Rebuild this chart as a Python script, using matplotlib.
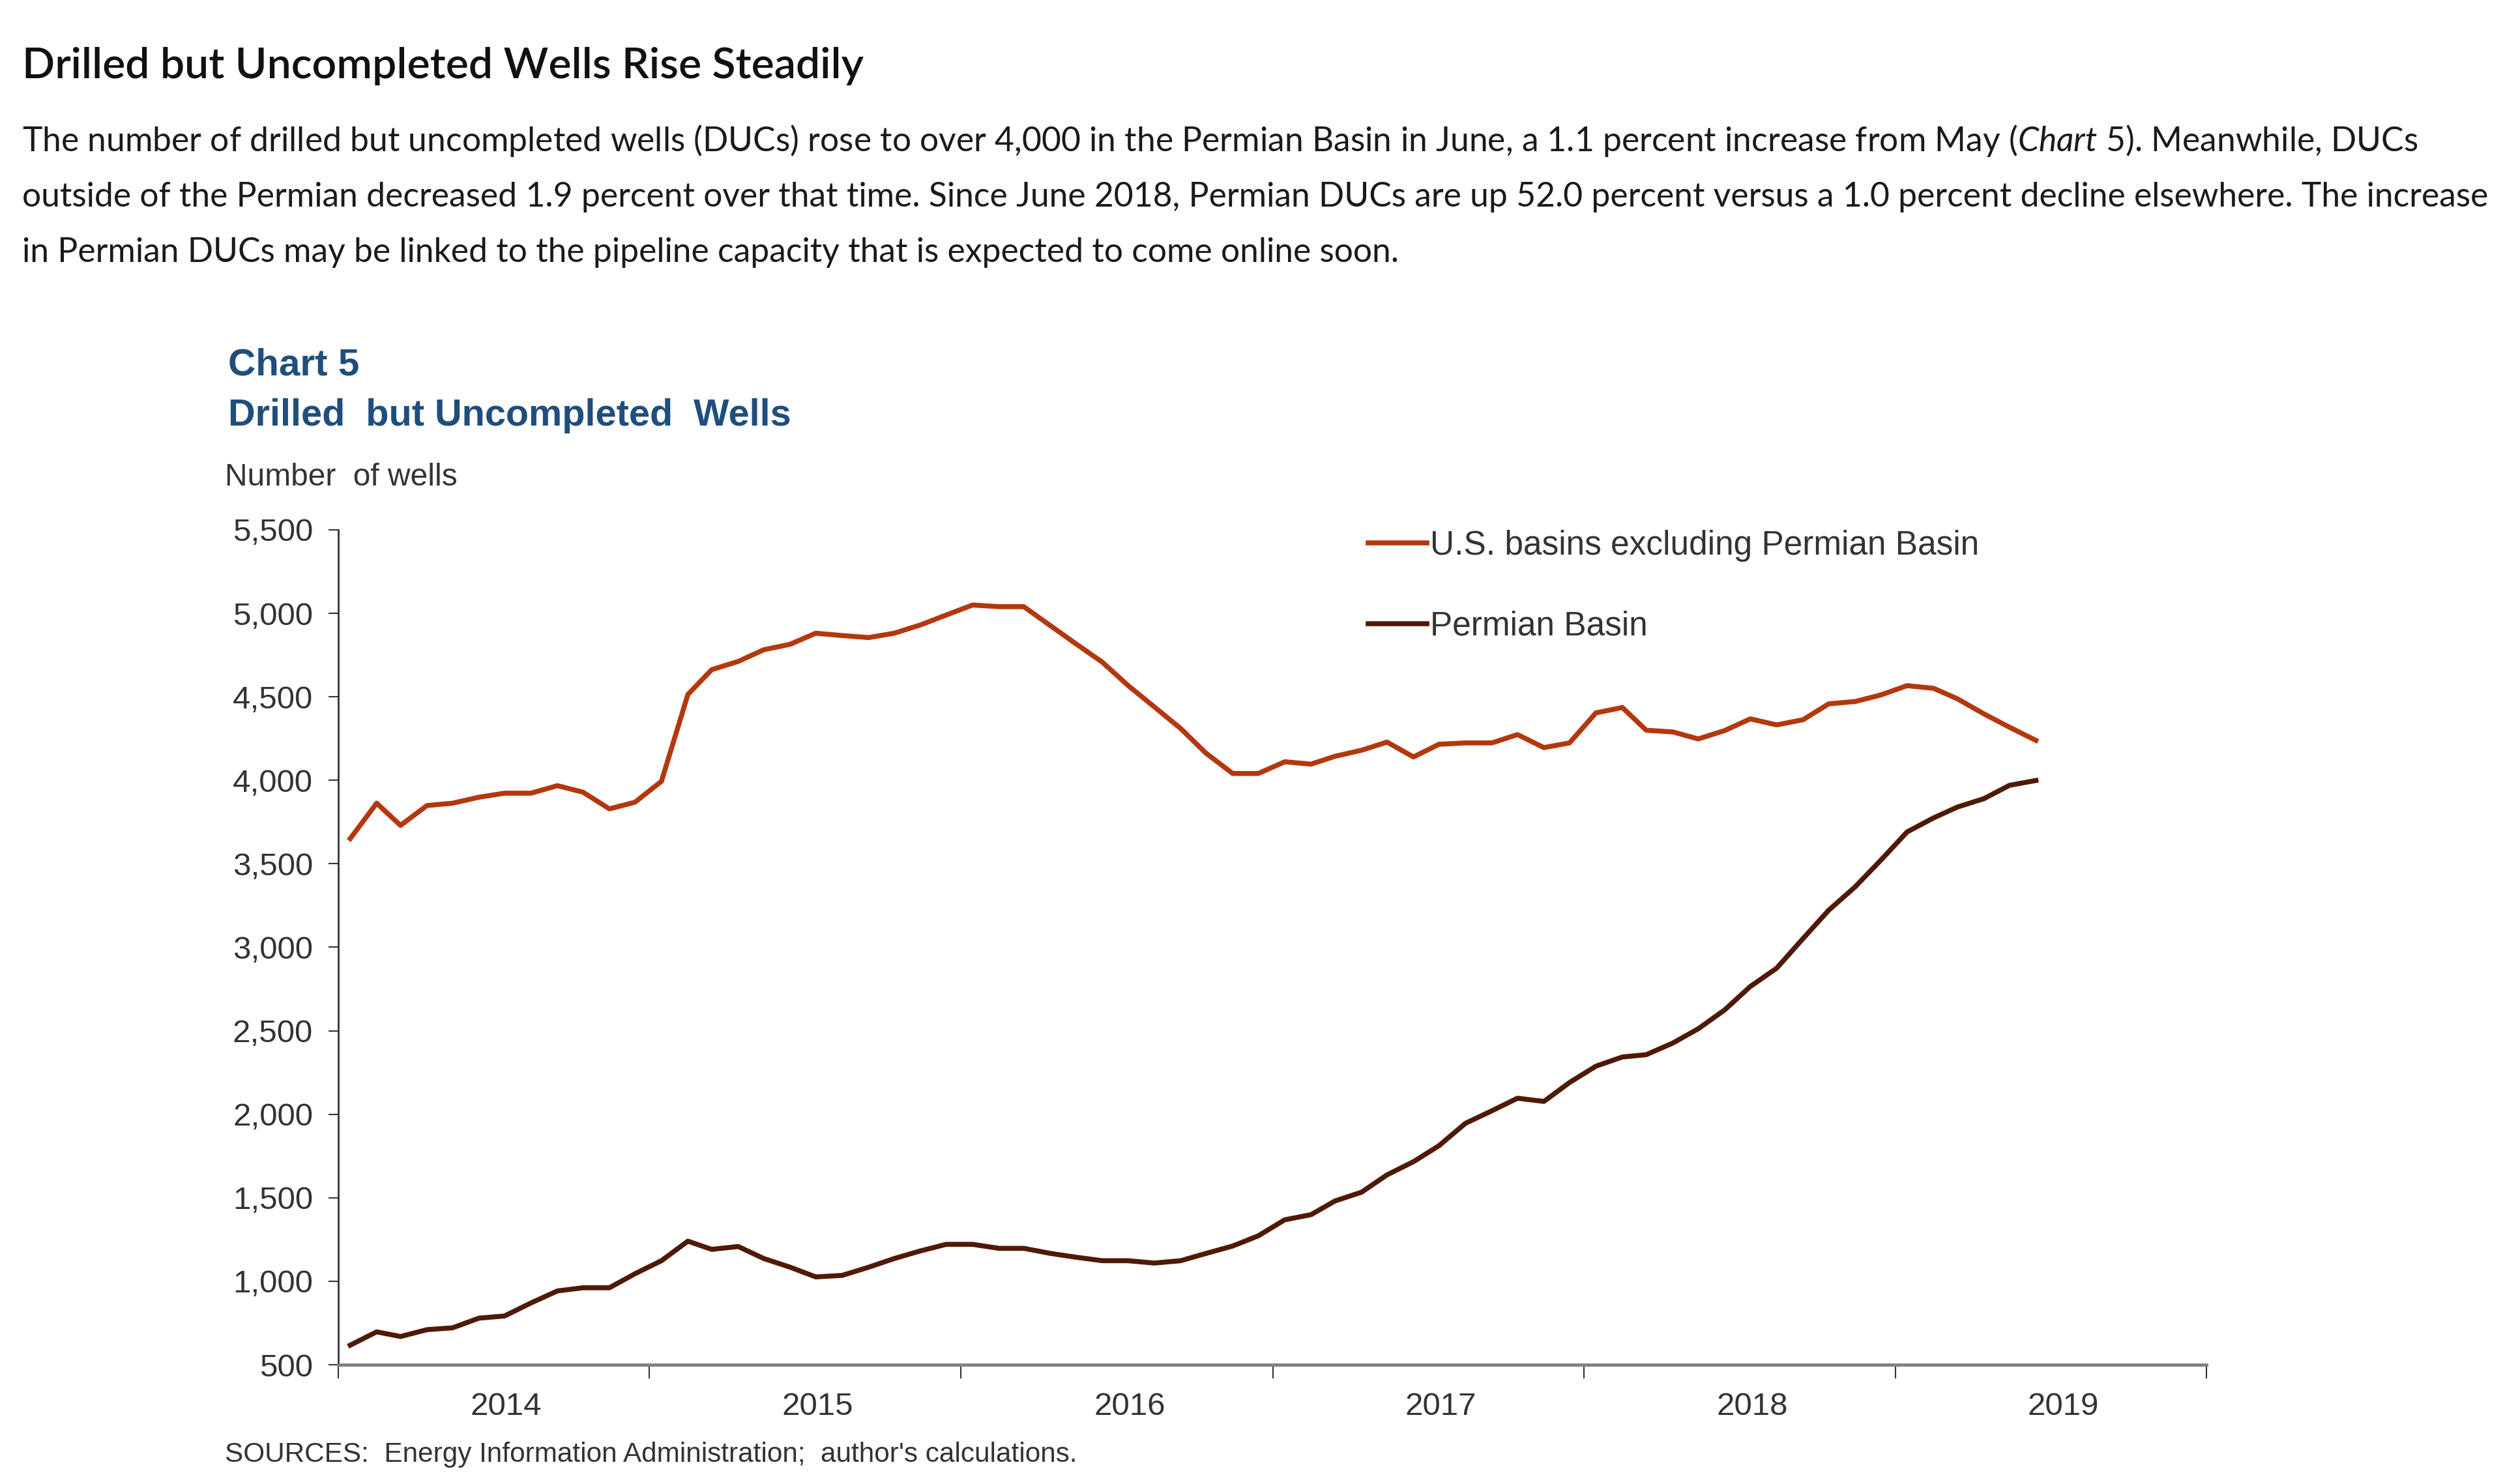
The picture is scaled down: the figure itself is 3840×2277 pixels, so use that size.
import matplotlib
matplotlib.use("Agg")
import matplotlib.pyplot as plt
import matplotlib.dates as mdates
import matplotlib.ticker as mticker
import pandas as pd

# monthly observations, Jan 2014 - Jun 2019 (plotted mid-month)
months = pd.date_range("2014-01-01", "2019-06-01", freq="MS") + pd.Timedelta(days=14)

us_ex_permian = [3651, 3863, 3730, 3849, 3863, 3899, 3923, 3923, 3968, 3929, 3829, 3869, 3994,
                 4514, 4663, 4712, 4782, 4815, 4881, 4867, 4855, 4881, 4931, 4990, 5050, 5040, 5040,
                 4927, 4818, 4708, 4569, 4440, 4310, 4161, 4041, 4041, 4111, 4097, 4144, 4180,
                 4229, 4140, 4216, 4224, 4224, 4274, 4196, 4224, 4404, 4436,
                 4300, 4290, 4248, 4298, 4368, 4332, 4363, 4458, 4472, 4511, 4567, 4551,
                 4488, 4398, 4318, 4239]

permian = [617, 697, 669, 710, 721, 779, 792, 870, 942, 961, 961, 1045, 1123,
           1240, 1191, 1208, 1136, 1084, 1026, 1035, 1084, 1136, 1182, 1221, 1221, 1197, 1197,
           1167, 1144, 1123, 1123, 1109, 1123, 1167, 1211, 1272, 1368, 1399, 1481, 1533,
           1637, 1716, 1812, 1946, 2021, 2096, 2077, 2190, 2288, 2343,
           2357, 2426, 2512, 2625, 2765, 2875, 3053, 3222, 3362, 3521, 3691, 3775,
           3840, 3890, 3970, 3999]

series_names = ["U.S. basins excluding Permian Basin", "Permian Basin"]
series_colors = ["#B3380E", "#4F1A05"]
year_labels = ["2014", "2015", "2016", "2017", "2018", "2019"]

W, H = 3840, 2277


def fx(px):
    return px / W


def fy(py):
    return 1 - py / H


def main():
    plt.rcParams["mathtext.fontset"] = "custom"
    plt.rcParams["mathtext.rm"] = "Lato"
    plt.rcParams["mathtext.it"] = "Lato:italic"

    fig = plt.figure(figsize=(W / 100, H / 100), dpi=100)
    fig.patch.set_facecolor("white")

    # article text
    fig.text(fx(34), fy(120), "Drilled but Uncompleted Wells Rise Steadily",
             family="Lato", weight="semibold", fontsize=47.5, color="#111111")
    body = [
        r"The number of drilled but uncompleted wells (DUCs) rose to over 4,000 in the Permian Basin in June, "
        r"a 1.1 percent increase from May ($\mathit{Chart\ 5}$). Meanwhile, DUCs",
        "outside of the Permian decreased 1.9 percent over that time. Since June 2018, Permian DUCs are up "
        "52.0 percent versus a 1.0 percent decline elsewhere. The increase",
        "in Permian DUCs may be linked to the pipeline capacity that is expected to come online soon.",
    ]
    for i, line in enumerate(body):
        fig.text(fx(34), fy(232 + i * 85), line, family="Lato", fontsize=37.2, color="#1a1a1a")

    # chart header
    blue = "#1F4E7E"
    fig.text(fx(350), fy(575), "Chart 5", family="Liberation Sans", weight="bold",
             fontsize=42, color=blue)
    fig.text(fx(350), fy(653), "Drilled  but Uncompleted  Wells", family="Liberation Sans",
             weight="bold", fontsize=41.5, color=blue)
    fig.text(fx(345), fy(745), "Number  of wells", family="Liberation Sans",
             fontsize=34.5, color="#333333")
    fig.text(fx(345), fy(2243), "SOURCES:  Energy Information Administration;  author's calculations.",
             family="Liberation Sans", fontsize=30.4, color="#333333")

    ax = fig.add_axes([fx(519), fy(2094), fx(3385) - fx(519), fy(813) - fy(2094)])
    for name, vals, col in zip(series_names, [us_ex_permian, permian], series_colors):
        ax.plot(months, vals, color=col, lw=5.5, label=name, solid_joinstyle="round")

    ax.set_ylim(500, 5500)
    ax.yaxis.set_major_locator(mticker.MultipleLocator(500))
    ax.yaxis.set_major_formatter(mticker.FuncFormatter(lambda v, p: f"{int(v):,}"))

    ax.set_xlim(pd.Timestamp("2014-01-01"), pd.Timestamp("2020-01-01"))
    ax.xaxis.set_major_locator(mdates.YearLocator())
    ax.xaxis.set_major_formatter(mticker.NullFormatter())
    ax.xaxis.set_minor_locator(mdates.MonthLocator(bymonth=7, bymonthday=17))
    ax.xaxis.set_minor_formatter(mticker.FixedFormatter(year_labels))

    for s in ["top", "right"]:
        ax.spines[s].set_visible(False)
    ax.spines["left"].set_color("#333333")
    ax.spines["left"].set_linewidth(2)
    ax.spines["bottom"].set_color("#808080")
    ax.spines["bottom"].set_linewidth(3.5)

    ax.tick_params(axis="y", which="major", direction="out", length=11, width=1.5,
                   color="#333333", pad=17, labelsize=35.5, labelcolor="#333333")
    ax.tick_params(axis="x", which="major", direction="out", length=15, width=1.5,
                   color="#333333")
    ax.tick_params(axis="x", which="minor", length=0, pad=30, labelsize=35.5,
                   labelcolor="#333333")
    for lbl in ax.get_yticklabels() + ax.get_xticklabels(minor=True):
        lbl.set_family("Liberation Sans")

    leg = ax.legend(loc="upper left", bbox_to_anchor=(fx(2099), fy(813)),
                    bbox_transform=fig.transFigure, frameon=False,
                    handlelength=1.75, handletextpad=0.1, labelspacing=1.45,
                    borderpad=0, borderaxespad=0, prop={"family": "Liberation Sans", "size": 37})
    for t in leg.get_texts():
        t.set_color("#333333")

    fig.savefig("out.png", dpi=100)


main()
